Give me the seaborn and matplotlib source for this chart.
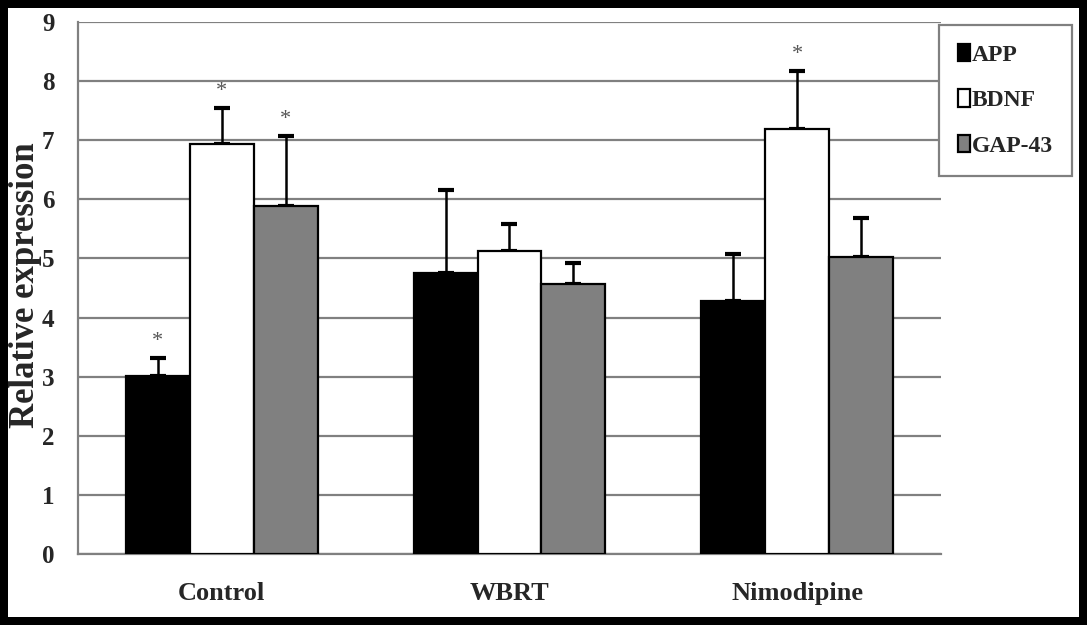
import numpy as np
import pandas as pd
import matplotlib
matplotlib.use('Agg')
import matplotlib.pyplot as plt
from matplotlib.patches import Rectangle
import seaborn as sns

groups = ['Control', 'WBRT', 'Nimodipine']
genes = ['APP', 'BDNF', 'GAP-43']
# mean values per gene, in group order
app = [3.01, 4.75, 4.28]
bdnf = [6.94, 5.12, 7.19]
gap43 = [5.88, 4.57, 5.03]
# upper error (SD)
app_err = [0.30, 1.40, 0.79]
bdnf_err = [0.61, 0.47, 0.98]
gap43_err = [1.19, 0.35, 0.65]
# significance marks
app_sig = [True, False, False]
bdnf_sig = [True, False, True]
gap43_sig = [True, False, False]

df = pd.DataFrame({
    'group': groups * 3,
    'gene': np.repeat(genes, 3),
    'value': app + bdnf + gap43,
    'err': app_err + bdnf_err + gap43_err,
    'sig': app_sig + bdnf_sig + gap43_sig,
})

sns.set_style('white')
plt.rcParams['font.family'] = ['Liberation Serif', 'DejaVu Serif']
plt.rcParams['font.weight'] = 'bold'

W, H = 1087, 625
fig = plt.figure(figsize=(W / 100, H / 100), dpi=100)
fig.patch.set_facecolor('black')
fig.patches.append(Rectangle((8 / W, 8 / H), (W - 16) / W, (H - 16) / H,
                             transform=fig.transFigure, facecolor='white',
                             edgecolor='none', zorder=-10))

ax = fig.add_axes([78 / W, (H - 554) / H, (941 - 78) / W, (554 - 22) / H])

sns.barplot(data=df, x='group', y='value', hue='gene', order=groups,
            hue_order=genes, palette=['black', 'white', '#808080'],
            edgecolor='black', linewidth=1.6, width=0.667, errorbar=None,
            saturation=1, ax=ax, zorder=3)

# one-sided error bars and stars on top of each bar
for cont, gene in zip(ax.containers, genes):
    sub = df[df['gene'] == gene].set_index('group').loc[groups]
    xs = [b.get_x() + b.get_width() / 2 for b in cont]
    ax.errorbar(xs, sub['value'], yerr=[np.zeros(3), sub['err']],
                fmt='none', ecolor='black', elinewidth=1.8, capsize=6,
                capthick=3, zorder=2)
    for x, v, e, s in zip(xs, sub['value'], sub['err'], sub['sig']):
        if s:
            ax.text(x, v + e + 0.12, '*', ha='center', va='bottom',
                    fontsize=16, color='#555555', fontweight='normal')

ax.set_ylim(0, 9)
ax.set_xlim(-0.5, 2.5)
ax.set_yticks(range(10))
ax.yaxis.grid(True, color='#808080', linewidth=1.6, zorder=0)
ax.set_axisbelow(True)
for side in ['right', 'top']:
    ax.spines[side].set_visible(False)
for side in ['left', 'bottom']:
    ax.spines[side].set_color('#808080')
    ax.spines[side].set_linewidth(1.6)

ax.set_xlabel('')
ax.set_ylabel('Relative expression', fontsize=25, fontweight='bold')
ax.yaxis.set_label_coords(-0.042, 0.506)
ax.tick_params(axis='y', length=0, pad=17, labelsize=18)
ax.tick_params(axis='x', length=0, pad=20, labelsize=19)
ax.set_xticks([0.5, 1.5, 2.5], minor=True)
ax.tick_params(axis='x', which='minor', direction='in', length=4,
               width=1.6, color='#808080')
for lab in ax.get_xticklabels() + ax.get_yticklabels():
    lab.set_fontweight('bold')

leg = ax.legend(loc='upper left', bbox_to_anchor=(939 / W, 1 - 25 / H),
                bbox_transform=fig.transFigure, borderaxespad=0,
                frameon=True, fancybox=False, framealpha=1,
                edgecolor='#808080', fontsize=17, handlelength=0.5,
                handleheight=0.75, handletextpad=0.1, labelspacing=1.0,
                borderpad=0.8, title=None)
leg.get_frame().set_linewidth(1.6)
for t in leg.get_texts():
    t.set_fontweight('bold')

fig.savefig('out.png', dpi=100, facecolor=fig.get_facecolor())
